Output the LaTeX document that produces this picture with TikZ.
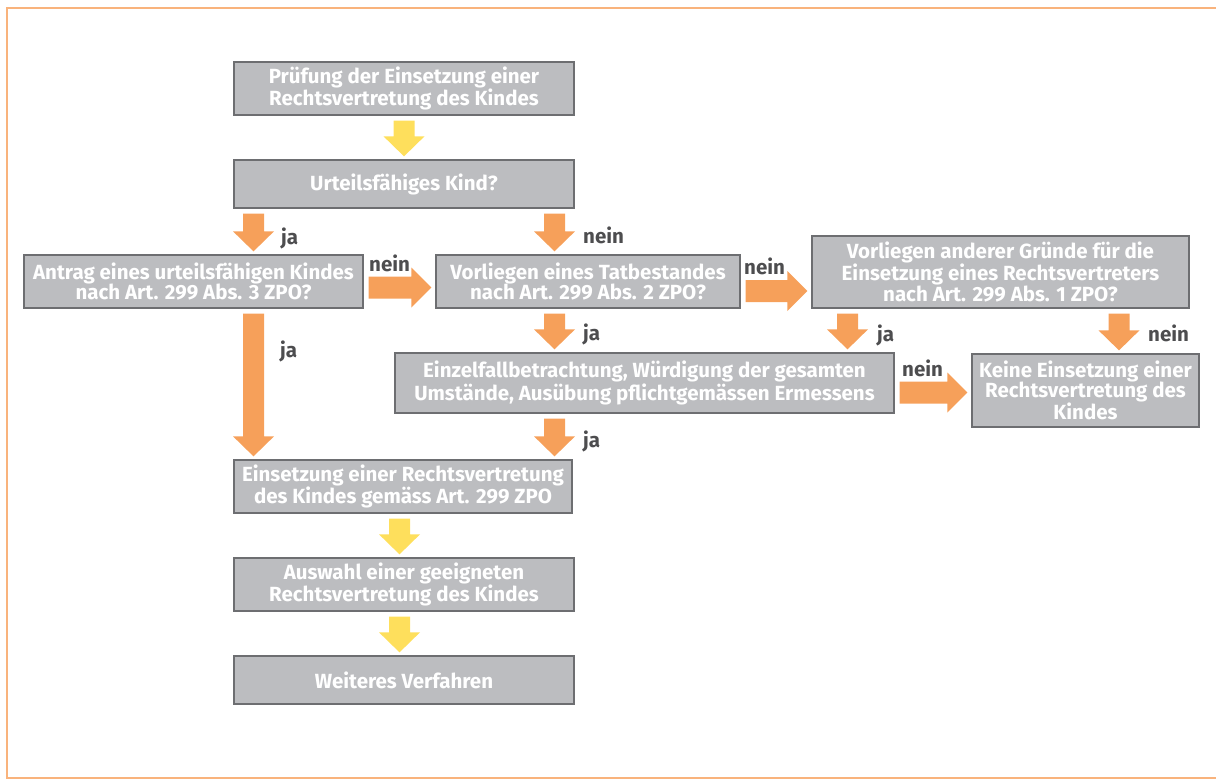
\documentclass[tikz,border=0pt]{standalone}
\usepackage{fontspec}
\setmainfont{Fira Sans}
\usetikzlibrary{calc}
\definecolor{boxgray}{HTML}{BCBDC0}
\definecolor{boxline}{HTML}{6D6E71}
\definecolor{arrorange}{HTML}{F6A05A}
\definecolor{arryellow}{HTML}{FEDF5C}
\definecolor{labelgray}{HTML}{4D4D4F}
\definecolor{frameorange}{HTML}{F9B37C}
\tikzset{
  flowbox/.style={draw=boxline, line width=1.3pt, fill=boxgray, text=white,
    font=\fontsize{20.5}{20.5}\selectfont\bfseries, align=center, inner sep=0pt},
  lbl/.style={text=labelgray, font=\fontsize{20.5}{21}\selectfont\bfseries, inner sep=0pt, anchor=base west}
}
% vertical fat arrow: colour, x, source node, target node
\newcommand\fatdown[4]{%
  \path let \p1=(#3.south), \p2=(#4.north) in
   [fill=#1] (#2pt-10.5pt,\y1-5pt) -- (#2pt+10.5pt,\y1-5pt) -- (#2pt+10.5pt,\y2+23pt)
   -- (#2pt+20.5pt,\y2+23pt) -- (#2pt,\y2+3pt) -- (#2pt-20.5pt,\y2+23pt)
   -- (#2pt-10.5pt,\y2+23pt) -- cycle;}
% horizontal fat arrow: colour, y (px, down), source node, target node
\newcommand\fatright[4]{%
  \path let \p1=(#3.east), \p2=(#4.west) in
   [fill=#1] (\x1+5pt,-#2pt+11pt) -- (\x2-24pt,-#2pt+11pt) -- (\x2-24pt,-#2pt+20pt)
   -- (\x2-4pt,-#2pt) -- (\x2-24pt,-#2pt-20pt) -- (\x2-24pt,-#2pt-11pt)
   -- (\x1+5pt,-#2pt-11pt) -- cycle;}
\begin{document}
\begin{tikzpicture}[x=1pt,y=-1pt]
\useasboundingbox (0,0) rectangle (1216,779);
\draw[frameorange, line width=1.4pt] (1216,8) -- (7,8) -- (7,778) -- (1216,778);

\node[flowbox, minimum width=340pt, minimum height=53pt] (b1) at (404,88.5)
  {Prüfung der Einsetzung einer\\Rechtsvertretung des Kindes};
\node[flowbox, minimum width=340pt, minimum height=48pt] (b2) at (404,184)
  {Urteilsfähiges Kind?};
\node[flowbox, minimum width=339pt, minimum height=53pt] (b3) at (193.5,281.5)
  {Antrag eines urteilsfähigen Kindes\\nach Art. 299 Abs. 3 ZPO?};
\node[flowbox, minimum width=304pt, minimum height=53pt] (b4) at (588,281.5)
  {Vorliegen eines Tatbestandes\\nach Art. 299 Abs. 2 ZPO?};
\node[flowbox, minimum width=377pt, minimum height=72pt] (b5) at (1000.5,272)
  {Vorliegen anderer Gründe für die\\Einsetzung eines Rechtsvertreters\\nach Art. 299 Abs. 1 ZPO?};
\node[flowbox, minimum width=499pt, minimum height=60pt] (b6) at (644.5,383)
  {Einzelfallbetrachtung, Würdigung der gesamten\\Umstände, Ausübung pflichtgemässen Ermessens};
\node[flowbox, minimum width=227pt, minimum height=73pt] (b7) at (1085.5,390.5)
  {Keine Einsetzung einer\\Rechtsvertretung des\\Kindes};
\node[flowbox, minimum width=338pt, minimum height=53pt] (b8) at (403,486.5)
  {Einsetzung einer Rechtsvertretung\\des Kindes gemäss Art. 299 ZPO};
\node[flowbox, minimum width=340pt, minimum height=53pt] (b9) at (404,584.5)
  {Auswahl einer geeigneten\\Rechtsvertretung des Kindes};
\node[flowbox, minimum width=340pt, minimum height=48pt] (b10) at (404,680)
  {Weiteres Verfahren};

\fatdown{arryellow}{404}{b1}{b2}
\fatdown{arrorange}{253.5}{b2}{b3}
\fatdown{arrorange}{554.5}{b2}{b4}
\fatright{arrorange}{287.5}{b3}{b4}
\fatright{arrorange}{291}{b4}{b5}
\fatdown{arrorange}{554.5}{b4}{b6}
\fatdown{arrorange}{847.5}{b5}{b6}
\fatdown{arrorange}{1119}{b5}{b7}
\fatright{arrorange}{392.5}{b6}{b7}
\fatdown{arrorange}{253.5}{b3}{b8}
\fatdown{arrorange}{554.5}{b6}{b8}
\fatdown{arryellow}{399.5}{b8}{b9}
\fatdown{arryellow}{399.5}{b9}{b10}

\node[lbl] (l1) at (281,244) {ja};
\node[lbl] (l2) at (583,243) {nein};
\node[lbl] (l3) at (369,271) {nein};
\node[lbl] (l4) at (744,274) {nein};
\node[lbl] (l5) at (877,341) {ja};
\node[lbl] (l6) at (1148,341) {nein};
\node[lbl] (l7) at (902,376) {nein};
\node[lbl] (l8) at (583,340) {ja};
\node[lbl] (l9) at (583,447) {ja};
\node[lbl] (l10) at (280,357) {ja};
\end{tikzpicture}
\end{document}
